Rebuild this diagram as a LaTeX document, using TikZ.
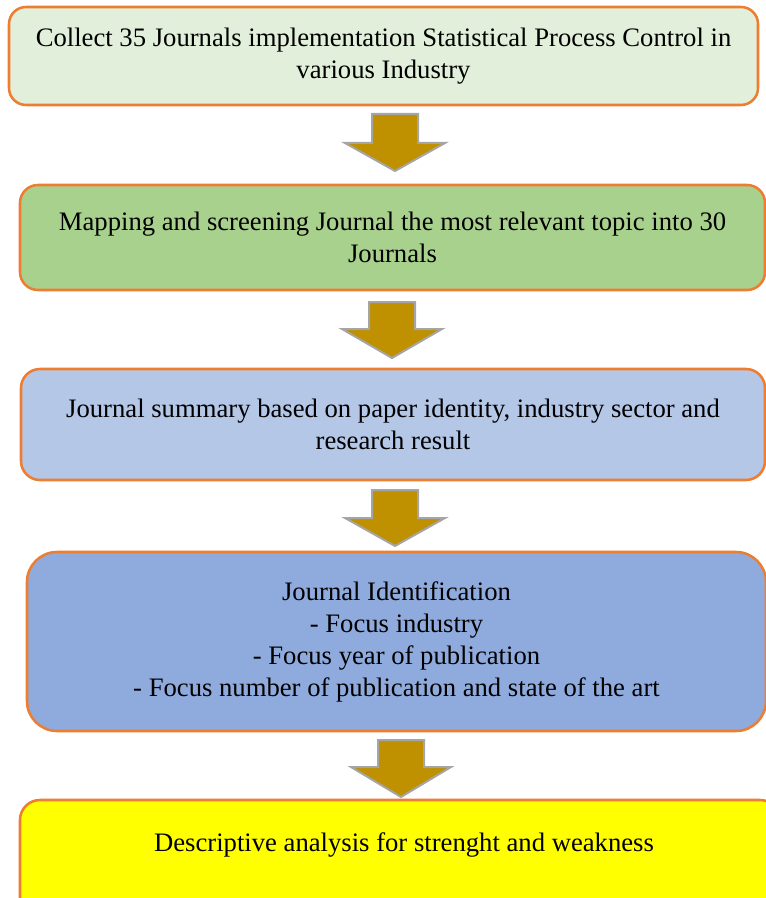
\documentclass[tikz,border=0pt]{standalone}
\usepackage{fontspec}
\setmainfont{Liberation Serif}
\definecolor{BorderOrange}{HTML}{ED7D31}
\definecolor{PaleGreen}{HTML}{E2EFDA}
\definecolor{MidGreen}{HTML}{A9D18E}
\definecolor{PaleBlue}{HTML}{B4C7E7}
\definecolor{MidBlue}{HTML}{8FAADC}
\definecolor{BrightYellow}{HTML}{FFFF00}
\definecolor{ArrowGold}{HTML}{BF9000}
\definecolor{ArrowGray}{HTML}{A5A5A5}
\newcommand{\pxu}{0.75pt}
\begin{document}
\begin{tikzpicture}[
  x=0.75pt, y=-0.75pt,
  box/.style={
    rectangle, draw=BorderOrange, line width=1.9pt,
    inner sep=0pt, align=center,
    font=\fontsize{20}{24}\selectfont,
  },
  txt/.style={inner sep=0pt, align=center, font=\fontsize{20}{24}\selectfont},
  blockarrow/.style={fill=ArrowGold, draw=ArrowGray, line width=1.5pt, line join=miter},
]
  \useasboundingbox (0,0) rectangle (766,898);
  \clip (0,0) rectangle (766,898);

  \node[box, fill=PaleGreen, rounded corners=17*\pxu,
        minimum width=749*\pxu, minimum height=98*\pxu] (collect) at (383.5,56)
        {Collect 35 Journals implementation Statistical Process Control in\\various Industry};
  \node[box, fill=MidGreen, rounded corners=18*\pxu,
        minimum width=745*\pxu, minimum height=105*\pxu] (mapping) at (392.5,237.5)
        {Mapping and screening Journal the most relevant topic into 30\\Journals};
  \node[box, fill=PaleBlue, rounded corners=19*\pxu,
        minimum width=744*\pxu, minimum height=111*\pxu] (summary) at (393,424.5)
        {Journal summary based on paper identity, industry sector and\\research result};
  \node[box, fill=MidBlue, rounded corners=30*\pxu,
        minimum width=739*\pxu, minimum height=179*\pxu] (ident) at (396.5,641.5)
        {Journal Identification\\- Focus industry\\- Focus year of publication\\- Focus number of publication and state of the art};
  \node[box, fill=BrightYellow, rounded corners=20*\pxu,
        minimum width=760*\pxu, minimum height=140*\pxu] (analysis) at (400,870) {};
  \node[txt] (analysistext) at (404,845) {Descriptive analysis for strenght and weakness};

  % block arrows between the steps
  \foreach \cx/\yt/\yw/\yb in {395/114/143/171, 392/302/329/358, 395/490/518/546, 401/740/767/797}{
    \draw[blockarrow] (\cx-23,\yt) -- (\cx+23,\yt) -- (\cx+23,\yw) -- (\cx+50,\yw)
      -- (\cx,\yb) -- (\cx-50,\yw) -- (\cx-23,\yw) -- cycle;
  }
\end{tikzpicture}
\end{document}
